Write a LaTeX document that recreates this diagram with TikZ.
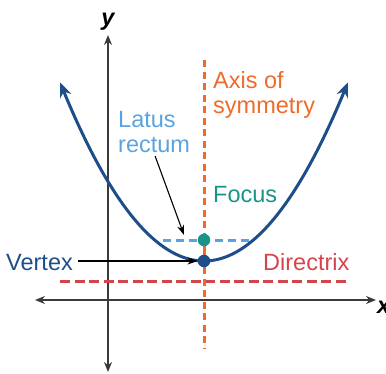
\documentclass[tikz,border=0pt]{standalone}
\usepackage{fontspec}
\setmainfont{Liberation Sans}
\usetikzlibrary{arrows.meta}
\definecolor{curveblue}{HTML}{1D4E89}
\definecolor{axisorange}{HTML}{F06A2A}
\definecolor{latusblue}{HTML}{5BA3E0}
\definecolor{focusteal}{HTML}{1A9488}
\definecolor{dirred}{HTML}{D6444B}
\definecolor{axisgray}{HTML}{3A3A3A}
\begin{document}
\begin{tikzpicture}[x=1pt,y=-1pt,
  lbl/.style={font=\fontsize{23.5}{25.5}\selectfont, inner sep=0pt, align=left},
  axislbl/.style={font=\fontsize{23.5}{25.5}\selectfont\bfseries\itshape, inner sep=0pt},
  axisline/.style={draw=axisgray, line width=1.3pt, {Stealth[length=10pt,width=8pt]}-{Stealth[length=10pt,width=8pt]}},
  pointer/.style={draw=black, line width=1.1pt, -{Stealth[length=10pt,width=7pt]}},
  dotnode/.style={circle, minimum size=12.5pt, inner sep=0pt},
  dashline/.style={line width=3pt, dash pattern=on 8pt off 5pt}
]
\useasboundingbox (0,0) rectangle (386,373);
% axes
\coordinate (xl) at (35,300);
\coordinate (xr) at (376,300);
\coordinate (yb) at (108,372);
\coordinate (yt) at (108,35);
\draw[axisline] (xl) -- (xr);
\draw[axisline] (yb) -- (yt);
\node[axislbl, anchor=base west] (xlab) at (377,313) {x};
\node[axislbl, anchor=base] (ylab) at (108,25) {y};
% directrix
\coordinate (dl) at (60,281);
\coordinate (dr) at (350,281);
\draw[dashline, draw=dirred, dash pattern=on 10pt off 4.5pt] (dl) -- (dr);
% latus rectum
\coordinate (ll) at (163,240);
\coordinate (lr) at (251,240);
\draw[dashline, draw=latusblue, dash pattern=on 8pt off 5pt] (ll) -- (lr);
% axis of symmetry
\coordinate (at) at (204,60);
\coordinate (ab) at (204,348);
\draw[dashline, draw=axisorange, dash pattern=on 7pt off 4.5pt] (at) -- (ab);
\draw[line width=3pt, draw=axisorange] (204,240) -- (204,261);
% parabola
\draw[curveblue, line width=3pt, {Stealth[length=15pt,width=12pt]}-{Stealth[length=15pt,width=12pt]}]
  plot[domain=60:348, samples=120, smooth] (\x, {261 - ((\x-204)/10.77)^2});
% points
\node[dotnode, fill=focusteal] (F) at (204,240) {};
\node[dotnode, fill=curveblue] (V) at (204,261) {};
% labels
\node[lbl, text=axisorange, anchor=north west] (AS) at (213,71) {Axis of\\symmetry};
\node[lbl, text=latusblue, anchor=north west] (LR) at (118,111) {Latus\\rectum};
\node[lbl, text=focusteal, anchor=base west] (FL) at (213,202) {Focus};
\node[lbl, text=curveblue, anchor=base west] (VL) at (6,270) {Vertex};
\node[lbl, text=dirred, anchor=base west] (DL) at (263,270) {Directrix};
% pointers
\coordinate (lrtip) at (184,235);
\draw[pointer, shorten <=3pt] (LR.south) -- (lrtip);
\draw[pointer, shorten <=5pt] (VL.east |- V) -- (V.west);
\end{tikzpicture}
\end{document}
